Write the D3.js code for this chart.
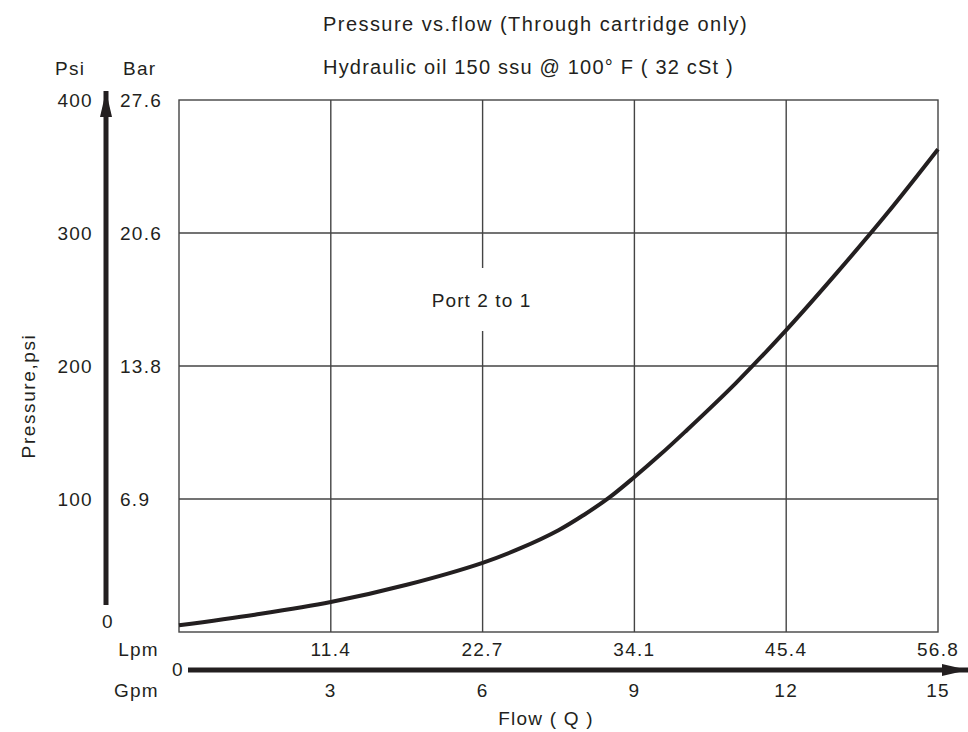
<!DOCTYPE html>
<html>
<head>
<meta charset="utf-8">
<style>
  body { margin: 0; background: #fff; }
  text { font-family: "Liberation Sans", Arial, sans-serif; fill: #231f20; font-size: 19px; letter-spacing: 1.3px; }
  .title { font-size: 20px; letter-spacing: 1.45px; }
</style>
</head>
<body>
<svg width="968" height="732"></svg>
<script src="https://d3js.org/d3.v7.min.js"></script>
<script>

  // flow in gpm, pressure in psi
  var flowGpm  = [0, 1.5, 3, 4.5, 6, 6.75, 7.5, 8, 8.5, 9, 9.5, 10, 11, 12, 13, 14, 15];
  var pressure = [5, 13, 22.5, 35.5, 52, 63, 76.5, 88, 101, 116.5, 133, 150.5, 187, 227, 270, 315, 363];

  var psiTicks = [100, 200, 300, 400];
  var barLabels = ["6.9", "13.8", "20.6", "27.6"];
  var gpmTicks = [3, 6, 9, 12, 15];
  var lpmLabels = ["11.4", "22.7", "34.1", "45.4", "56.8"];

  var svg = d3.select("svg");

  var x = d3.scaleLinear().domain([0, 15]).range([179, 938]),
      y = d3.scaleLinear().domain([0, 400]).range([632, 100]);

  var defs = svg.append("defs");
  defs.append("marker").attr("id", "head")
      .attr("viewBox", "0 0 26 12").attr("refX", 26).attr("refY", 6)
      .attr("markerUnits", "userSpaceOnUse")
      .attr("markerWidth", 26).attr("markerHeight", 12).attr("orient", "auto")
    .append("path").attr("d", "M0,0L26,6L0,12Z").attr("fill", "#231f20");

  // grid
  var grid = svg.append("g").attr("stroke", "#444").attr("stroke-width", 1.4);
  grid.selectAll(".v").data(gpmTicks.slice(0, -1)).enter().append("line")
      .attr("x1", x).attr("x2", x).attr("y1", y(0)).attr("y2", y(400));
  grid.selectAll(".h").data(psiTicks.slice(0, -1)).enter().append("line")
      .attr("x1", x(0)).attr("x2", x(15)).attr("y1", y).attr("y2", y);
  grid.append("rect").attr("x", x(0)).attr("y", y(400))
      .attr("width", x(15) - x(0)).attr("height", y(0) - y(400)).attr("fill", "none");

  // label sits in a gap of the 6 gpm line
  svg.append("rect").attr("x", 425).attr("y", 268).attr("width", 115).attr("height", 63).attr("fill", "#fff");
  svg.append("text").attr("x", x(6) - 1).attr("y", 307).attr("text-anchor", "middle")
      .style("letter-spacing", "1.1px").text("Port 2 to 1");

  // curve
  svg.append("path")
      .datum(d3.zip(flowGpm, pressure))
      .attr("fill", "none").attr("stroke", "#231f20").attr("stroke-width", 4)
      .attr("d", d3.line().x(function(d) { return x(d[0]); }).y(function(d) { return y(d[1]); })
          .curve(d3.curveCatmullRom.alpha(0.5)));

  // axis arrows
  svg.append("line").attr("x1", 106).attr("x2", 106).attr("y1", 605).attr("y2", 91)
      .attr("stroke", "#231f20").attr("stroke-width", 5).attr("marker-end", "url(#head)");
  svg.append("line").attr("x1", 188).attr("x2", 968).attr("y1", 670).attr("y2", 670)
      .attr("stroke", "#231f20").attr("stroke-width", 5).attr("marker-end", "url(#head)");

  // y labels
  svg.selectAll(".psi").data(psiTicks).enter().append("text")
      .attr("x", 93).attr("y", function(d) { return y(d) + 7; }).attr("text-anchor", "end")
      .text(function(d) { return d; });
  svg.selectAll(".bar").data(barLabels).enter().append("text")
      .attr("x", 120).attr("y", function(d, i) { return y(psiTicks[i]) + 7; })
      .text(function(d) { return d; });
  svg.append("text").attr("x", 108).attr("y", 628).attr("text-anchor", "middle").text("0");
  svg.append("text").attr("x", 55).attr("y", 75).text("Psi");
  svg.append("text").attr("x", 123).attr("y", 75).text("Bar");
  svg.append("text").attr("transform", "translate(35,396) rotate(-90)").attr("text-anchor", "middle")
      .style("letter-spacing", "1.6px").text("Pressure,psi");

  // x labels
  svg.selectAll(".lpm").data(lpmLabels).enter().append("text")
      .attr("x", function(d, i) { return x(gpmTicks[i]); }).attr("y", 656).attr("text-anchor", "middle")
      .text(function(d) { return d; });
  svg.selectAll(".gpm").data(gpmTicks).enter().append("text")
      .attr("x", x).attr("y", 697).attr("text-anchor", "middle")
      .text(function(d) { return d; });
  svg.append("text").attr("x", 178).attr("y", 676).attr("text-anchor", "middle").text("0");
  svg.append("text").attr("x", 159).attr("y", 656).attr("text-anchor", "end").text("Lpm");
  svg.append("text").attr("x", 159).attr("y", 697).attr("text-anchor", "end").text("Gpm");
  svg.append("text").attr("x", 546).attr("y", 725).attr("text-anchor", "middle")
      .style("letter-spacing", "1.2px").text("Flow ( Q )");

  // titles
  svg.append("text").attr("class", "title").attr("x", 323).attr("y", 31)
      .text("Pressure vs.flow (Through cartridge only)");
  svg.append("text").attr("class", "title").attr("x", 323).attr("y", 74)
      .style("letter-spacing", "1.2px").text("Hydraulic oil 150 ssu @ 100\u00b0 F ( 32 cSt )");

</script>
</body>
</html>
